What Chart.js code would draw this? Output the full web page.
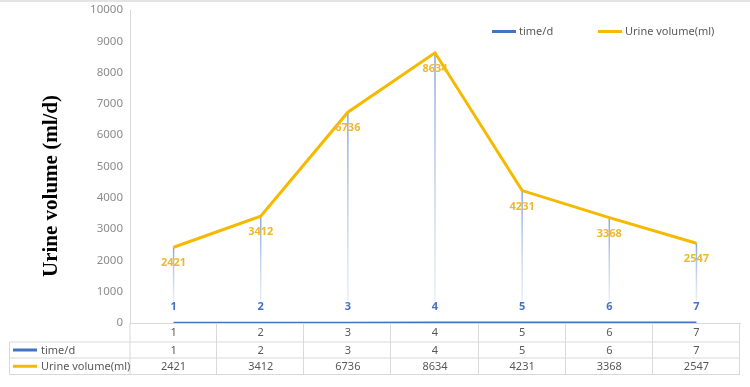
<!DOCTYPE html>
<html>
<head>
<meta charset="utf-8">
<script src="https://cdn.jsdelivr.net/npm/chart.js@4"></script>
<style>
  html, body { margin: 0; padding: 0; background: #fff; }
</style>
</head>
<body>
<canvas id="chart" width="750" height="387"></canvas>
<script>
// data
const days = ["1", "2", "3", "4", "5", "6", "7"];
const timeD = [1, 2, 3, 4, 5, 6, 7];
const urine = [2421, 3412, 6736, 8634, 4231, 3368, 2547];
const seriesNames = ["time/d", "Urine volume(ml)"];
const yMax = 10000;
const yStep = 1000;
const yTitle = "Urine volume (ml/d)";

const FONT = "'Noto Sans', 'Open Sans', sans-serif";
const BLUE = "#4472C4";
const GOLD = "#F5BA00";
const GOLD_TXT = "#EDB92F";
const GRID = "#D9D9D9";
const TXT = "#595959";

const decor = {
  id: "decor",
  beforeDraw(chart) {
    const c = chart.ctx;
    c.save();
    c.fillStyle = "#fff";
    c.fillRect(0, 0, chart.width, chart.height);
    c.fillStyle = "#E4E4E4";
    c.fillRect(0, 0, chart.width, 2);
    c.restore();
  },
  beforeDatasetsDraw(chart) {
    // drop lines from each urine point down towards the day labels
    const c = chart.ctx;
    const up = chart.getDatasetMeta(1).data;
    const tp = chart.getDatasetMeta(0).data;
    c.save();
    up.forEach((p, i) => {
      const yb = tp[i].y - 22;
      const g = c.createLinearGradient(0, p.y, 0, yb);
      g.addColorStop(0, "rgba(130,160,215,0.95)");
      g.addColorStop(1, "rgba(190,205,235,0.35)");
      c.strokeStyle = g;
      c.lineWidth = 1.5;
      c.beginPath();
      c.moveTo(p.x, p.y);
      c.lineTo(p.x, yb);
      c.stroke();
    });
    c.restore();
  },
  afterDatasetsDraw(chart) {
    const c = chart.ctx;
    const a = chart.chartArea;
    c.save();
    c.textAlign = "center";
    c.textBaseline = "middle";

    // value labels
    c.font = "bold 11px " + FONT;
    c.fillStyle = GOLD_TXT;
    chart.getDatasetMeta(1).data.forEach((p, i) => c.fillText(String(urine[i]), p.x, p.y + 16));
    c.fillStyle = BLUE;
    chart.getDatasetMeta(0).data.forEach((p, i) => c.fillText(String(timeD[i]), p.x, p.y - 16));

    // data table
    const n = days.length;
    const w = (a.right - a.left) / n;
    const y0 = a.bottom, y1 = y0 + 19, y2 = y1 + 16, y3 = y2 + 16.5;
    const tl = 9.5;
    c.strokeStyle = GRID;
    c.lineWidth = 1;
    c.beginPath();
    c.moveTo(tl, y1); c.lineTo(a.right, y1);
    c.moveTo(tl, y2); c.lineTo(a.right, y2);
    c.moveTo(tl, y3); c.lineTo(a.right, y3);
    c.moveTo(tl, y1); c.lineTo(tl, y3);
    c.moveTo(a.left, y0); c.lineTo(a.left, y3);
    for (let k = 1; k <= n; k++) {
      const x = Math.round(a.left + k * w) - 0.5;
      c.moveTo(x, y0); c.lineTo(x, y3);
    }
    c.stroke();

    c.font = "11px " + FONT;
    c.fillStyle = TXT;
    const xs = chart.scales.x;
    days.forEach((d, i) => {
      const x = xs.getPixelForValue(i);
      c.fillText(d, x, (y0 + y1) / 2 + 0.5);
      c.fillText(String(timeD[i]), x, (y1 + y2) / 2 + 0.5);
      c.fillText(String(urine[i]), x, (y2 + y3) / 2 + 0.5);
    });
    c.textAlign = "left";
    [[BLUE, (y1 + y2) / 2], [GOLD, (y2 + y3) / 2]].forEach(([col, y], j) => {
      c.fillStyle = col;
      c.fillRect(13, y - 1.5, 24, 3);
      c.fillStyle = TXT;
      c.fillText(seriesNames[j], 41, y + 0.5);
    });

    // legend
    [[BLUE, 492], [GOLD, 598]].forEach(([col, x], j) => {
      c.fillStyle = col;
      c.fillRect(x, 30, 24, 3);
      c.fillStyle = TXT;
      c.fillText(seriesNames[j], x + 27, 31.5);
    });

    // y axis title
    c.translate(52, 186);
    c.rotate(-Math.PI / 2);
    c.textAlign = "center";
    c.fillStyle = "#000";
    c.font = "bold 21px 'Liberation Serif', 'Times New Roman', serif";
    c.fillText(yTitle, 0, 0);
    c.restore();
  }
};

new Chart(document.getElementById("chart").getContext("2d"), {
  type: "line",
  data: {
    labels: days,
    datasets: [
      {
        label: seriesNames[0],
        data: timeD,
        borderColor: BLUE,
        borderWidth: 2.5,
        pointRadius: 0,
        tension: 0
      },
      {
        label: seriesNames[1],
        data: urine,
        borderColor: GOLD,
        borderWidth: 3,
        pointRadius: 0,
        tension: 0
      }
    ]
  },
  options: {
    responsive: false,
    animation: false,
    layout: { padding: { top: 10, right: 10, left: 0, bottom: 0 } },
    plugins: { legend: { display: false }, tooltip: { enabled: false } },
    scales: {
      x: {
        offset: true,
        grid: { display: false, drawTicks: false },
        border: { display: true, color: GRID, width: 1 },
        ticks: { display: false },
        afterFit: (s) => { s.height = 64; }
      },
      y: {
        min: 0,
        max: yMax,
        grid: { display: false, drawTicks: false },
        border: { display: true, color: GRID, width: 1 },
        ticks: {
          stepSize: yStep,
          padding: 7,
          color: "#8C8C8C",
          font: { family: FONT, size: 11.5 },
          callback: (v) => String(v)
        },
        afterFit: (s) => { s.width = 130; s.paddingTop = 0; s.paddingBottom = 0; }
      }
    }
  },
  plugins: [decor]
});
</script>
</body>
</html>
